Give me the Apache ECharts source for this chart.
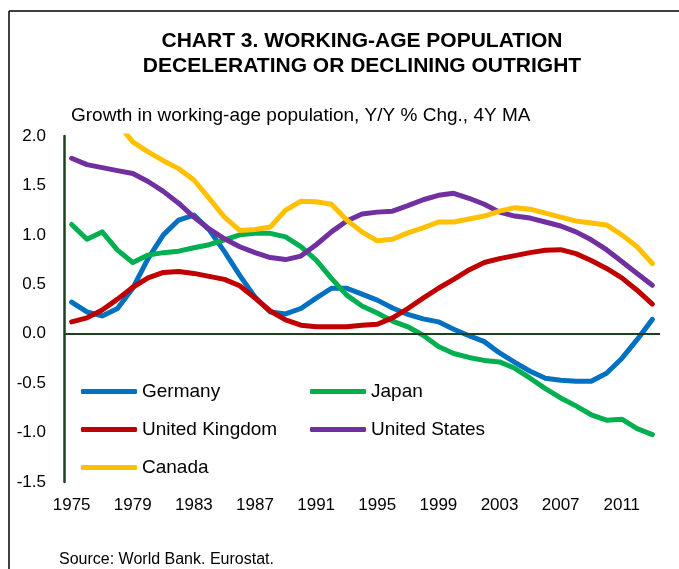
<!DOCTYPE html>
<html>
<head>
<meta charset="utf-8">
<script src="https://cdn.jsdelivr.net/npm/echarts@6/dist/echarts.min.js"></script>
<style>
  html, body { margin: 0; padding: 0; background: #fff; }
  #chart { width: 679px; height: 569px; }
</style>
</head>
<body>
<div id="chart"></div>
<script>
    var years = [];
    for (var y = 1975; y <= 2013; y++) { years.push(String(y)); }

    var germany = [0.32, 0.22, 0.18, 0.255, 0.46, 0.76, 1.0, 1.15, 1.20, 1.05,
                   0.83, 0.59, 0.37, 0.22, 0.20, 0.255, 0.36, 0.46, 0.46, 0.40,
                   0.34, 0.26, 0.195, 0.15, 0.12, 0.045, -0.02, -0.08, -0.195, -0.29,
                   -0.38, -0.45, -0.47, -0.48, -0.48, -0.40, -0.25, -0.06, 0.145];
    var japan = [1.105, 0.955, 1.03, 0.845, 0.72, 0.795, 0.82, 0.835, 0.87, 0.90,
                 0.95, 1.0, 1.015, 1.015, 0.98, 0.88, 0.745, 0.56, 0.39, 0.28,
                 0.21, 0.127, 0.07, -0.015, -0.13, -0.20, -0.24, -0.27, -0.285, -0.35,
                 -0.45, -0.555, -0.65, -0.73, -0.82, -0.875, -0.865, -0.96, -1.02];
    var uk = [0.12, 0.16, 0.24, 0.35, 0.47, 0.565, 0.62, 0.63, 0.61, 0.58,
              0.55, 0.485, 0.36, 0.23, 0.14, 0.086, 0.07, 0.07, 0.07, 0.086,
              0.096, 0.16, 0.255, 0.36, 0.46, 0.55, 0.645, 0.72, 0.76, 0.79,
              0.82, 0.845, 0.85, 0.81, 0.74, 0.66, 0.565, 0.44, 0.30];
    var us = [1.775, 1.71, 1.68, 1.65, 1.62, 1.54, 1.44, 1.32, 1.18, 1.06,
              0.96, 0.88, 0.82, 0.77, 0.75, 0.785, 0.90, 1.03, 1.14, 1.21,
              1.23, 1.24, 1.295, 1.355, 1.40, 1.42, 1.37, 1.31, 1.23, 1.19,
              1.17, 1.13, 1.09, 1.03, 0.95, 0.85, 0.73, 0.61, 0.49];
    // first years run above the 2.0 axis top and are cut off in the source
    var canada = [null, null, null, 2.13, 1.94, 1.84, 1.75, 1.67, 1.555, 1.37,
                  1.18, 1.045, 1.055, 1.08, 1.25, 1.34, 1.335, 1.31, 1.15, 1.03,
                  0.94, 0.955, 1.02, 1.07, 1.13, 1.13, 1.16, 1.19, 1.24, 1.275,
                  1.26, 1.22, 1.18, 1.14, 1.12, 1.10, 1.0, 0.88, 0.71];

    var font = "'Liberation Sans', Arial, sans-serif";
    var axisColor = '#1E3F20';

    function line(name, data, color) {
        return {
            name: name,
            type: 'line',
            data: data,
            symbol: 'none',
            clip: true,
            lineStyle: { color: color, width: 5, cap: 'round', join: 'round' },
            itemStyle: { color: color }
        };
    }

    var series = [
        line('Germany', germany, '#0070C0'),
        line('Japan', japan, '#00B050'),
        line('United Kingdom', uk, '#C00000'),
        line('United States', us, '#7030A0'),
        line('Canada', canada, '#FFC000')
    ];
    series[0].markLine = {
        silent: true,
        symbol: 'none',
        label: { show: false },
        lineStyle: { color: axisColor, width: 2, type: 'solid' },
        data: [{ yAxis: 0 }]
    };

    var legendCommon = {
        orient: 'vertical',
        icon: 'roundRect',
        itemWidth: 56,
        itemHeight: 5,
        itemGap: 19,
        textStyle: { fontFamily: font, fontSize: 19, color: '#000' }
    };

    var chart = echarts.init(document.getElementById('chart'), null, { renderer: 'canvas' });
    chart.setOption({
        animation: false,
        backgroundColor: '#fff',
        textStyle: { fontFamily: font },
        title: [
            {
                text: 'CHART 3. WORKING-AGE POPULATION\nDECELERATING OR DECLINING OUTRIGHT',
                left: 362, top: 29, textAlign: 'center', padding: 0,
                textStyle: { fontFamily: font, fontSize: 21, fontWeight: 'bold', color: '#000', lineHeight: 25 }
            },
            {
                text: 'Growth in working-age population, Y/Y % Chg., 4Y MA',
                left: 71, top: 106, padding: 0,
                textStyle: { fontFamily: font, fontSize: 19, fontWeight: 'normal', color: '#000' }
            },
            {
                text: 'Source: World Bank. Eurostat.',
                left: 59, top: 552, padding: 0,
                textStyle: { fontFamily: font, fontSize: 16, fontWeight: 'normal', color: '#000' }
            }
        ],
        graphic: [
            { type: 'line', shape: { x1: 9, y1: 11, x2: 679, y2: 11 }, style: { stroke: '#000', lineWidth: 1.5 } },
            { type: 'line', shape: { x1: 9, y1: 11, x2: 9, y2: 569 }, style: { stroke: '#000', lineWidth: 1.5 } }
        ],
        legend: [
            Object.assign({ left: 76, top: 377, data: ['Germany', 'United Kingdom', 'Canada'] }, legendCommon),
            Object.assign({ left: 305, top: 377, data: ['Japan', 'United States'] }, legendCommon)
        ],
        grid: { left: 64, right: 19, top: 136, bottom: 87 },
        xAxis: {
            type: 'category',
            data: years,
            boundaryGap: true,
            axisLine: { show: false },
            axisTick: { show: false },
            axisLabel: { interval: 3, margin: 15, fontSize: 17, color: '#000', fontFamily: font },
            splitLine: { show: false }
        },
        yAxis: {
            type: 'value',
            min: -1.5, max: 2.0, interval: 0.5,
            axisLine: { show: true, lineStyle: { color: axisColor, width: 2.5 } },
            axisTick: { show: false },
            splitLine: { show: false },
            axisLabel: {
                margin: 18, fontSize: 17, color: '#000', fontFamily: font,
                formatter: function (v) { return v.toFixed(1); }
            }
        },
        series: series
    });
</script>
</body>
</html>
